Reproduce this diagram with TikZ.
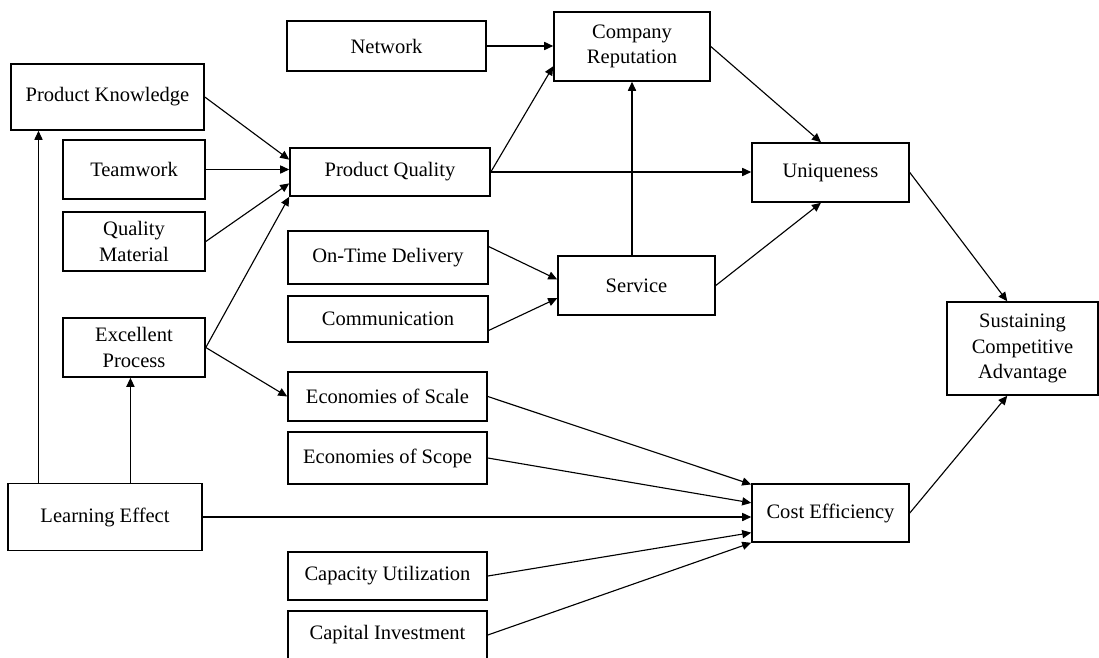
\documentclass[tikz,border=0pt]{standalone}
\usepackage{fontspec}
\setmainfont{Liberation Serif}
\usetikzlibrary{arrows.meta,calc}
\begin{document}
\begin{tikzpicture}[x=0.025cm,y=-0.025cm,
  box/.style={draw, line width=1.1pt, align=center, inner sep=0pt, font=\fontsize{14.6}{18}\selectfont},
  arr/.style={line width=0.8pt, -{Triangle[length=6.4pt,width=5.8pt]}},
  ln/.style={line width=0.8pt}]
\clip (0,0) rectangle (1099,658);
\fill[white] (0,0) rectangle (1099,658);
% left column
\node[box, minimum width=4.825cm, minimum height=1.65cm] (PK) at (107.5,97) {Product Knowledge};
\node[box, minimum width=3.55cm, minimum height=1.475cm] (TW) at (134,169.5) {Teamwork};
\node[box, minimum width=3.55cm, minimum height=1.475cm] (QM) at (134,241.5) {Quality\\Material};
\node[box, minimum width=3.55cm, minimum height=1.475cm] (EP) at (134,347.5) {Excellent\\Process};
\node[box, minimum width=4.85cm, minimum height=1.675cm] (LE) at (105,517) {Learning Effect};
% middle column
\node[box, minimum width=4.975cm, minimum height=1.25cm] (NW) at (386.5,46) {Network};
\node[box, minimum width=5cm, minimum height=1.2cm] (PQ) at (390,172) {Product Quality};
\node[box, minimum width=5cm, minimum height=1.325cm] (OTD) at (388,257.5) {On-Time Delivery};
\node[box, minimum width=5cm, minimum height=1.15cm] (COM) at (388,319) {Communication};
\node[box, minimum width=4.975cm, minimum height=1.225cm] (ESL) at (387.5,396.5) {Economies of Scale};
\node[box, minimum width=4.975cm, minimum height=1.3cm] (ESP) at (387.5,458) {Economies of Scope};
\node[box, minimum width=4.975cm, minimum height=1.2cm] (CU) at (387.5,576) {Capacity Utilization};
\node[box, minimum width=4.975cm, minimum height=1.2cm] (CI) at (387.5,635) {Capital Investment};
% right part
\node[box, minimum width=3.9cm, minimum height=1.725cm] (CR) at (632,46.5) {Company\\Reputation};
\node[box, minimum width=3.925cm, minimum height=1.475cm] (SV) at (636.5,285.5) {Service};
\node[box, minimum width=3.925cm, minimum height=1.475cm] (U) at (830.5,172.5) {Uniqueness};
\node[box, minimum width=3.925cm, minimum height=1.45cm] (CE) at (830.5,513) {Cost Efficiency};
\node[box, minimum width=3.775cm, minimum height=2.325cm] (SCA) at (1022.5,348.5) {Sustaining\\Competitive\\Advantage};
% connectors into Product Quality
\draw[arr] (PK.east) -- ($(PQ.north west)!0.25!(PQ.south west)$);
\draw[arr] (TW.east) -- (TW.east -| PQ.west);
\draw[arr] (QM.east) -- ($(PQ.north west)!0.73!(PQ.south west)$);
\draw[arr] (EP.east) -- (PQ.south west);
\draw[arr] (EP.east) -- (ESL.west);
% learning effect verticals
\coordinate (le1) at ($(LE.north west)!0.16!(LE.north east)$);
\coordinate (le2) at ($(LE.north west)!0.63!(LE.north east)$);
\draw[arr] (le1) -- (le1 |- PK.south);
\draw[arr] (le2) -- (le2 |- EP.south);
% reputation and uniqueness
\draw[arr] (NW.east) -- (NW.east -| CR.west);
\draw[arr] (PQ.east) -- ($(CR.north west)!0.78!(CR.south west)$);
\draw[arr] (PQ.east) -- (PQ.east -| U.west);
\draw[arr] (CR.east) -- ($(U.north west)!0.44!(U.north east)$);
\coordinate (sv1) at (CR.south |- SV.north);
\draw[arr] (sv1) -- (CR.south);
\draw[arr] (SV.east) -- ($(U.south west)!0.44!(U.south east)$);
\draw[arr] ($(OTD.north east)!0.3!(OTD.south east)$) -- ($(SV.north west)!0.4!(SV.south west)$);
\draw[arr] ($(COM.north east)!0.74!(COM.south east)$) -- ($(SV.north west)!0.71!(SV.south west)$);
% cost efficiency
\draw[arr] (ESL.east) -- ($(CE.north west)!0.02!(CE.south west)$);
\draw[arr] (ESP.east) -- ($(CE.north west)!0.33!(CE.south west)$);
\draw[arr] (LE.east) -- (LE.east -| CE.west);
\draw[arr] (CU.east) -- ($(CE.north west)!0.83!(CE.south west)$);
\draw[arr] (CI.east) -- (CE.south west);
% sustaining competitive advantage
\draw[arr] (U.east) -- ($(SCA.north west)!0.4!(SCA.north east)$);
\draw[arr] (CE.east) -- ($(SCA.south west)!0.4!(SCA.south east)$);
\end{tikzpicture}
\end{document}
